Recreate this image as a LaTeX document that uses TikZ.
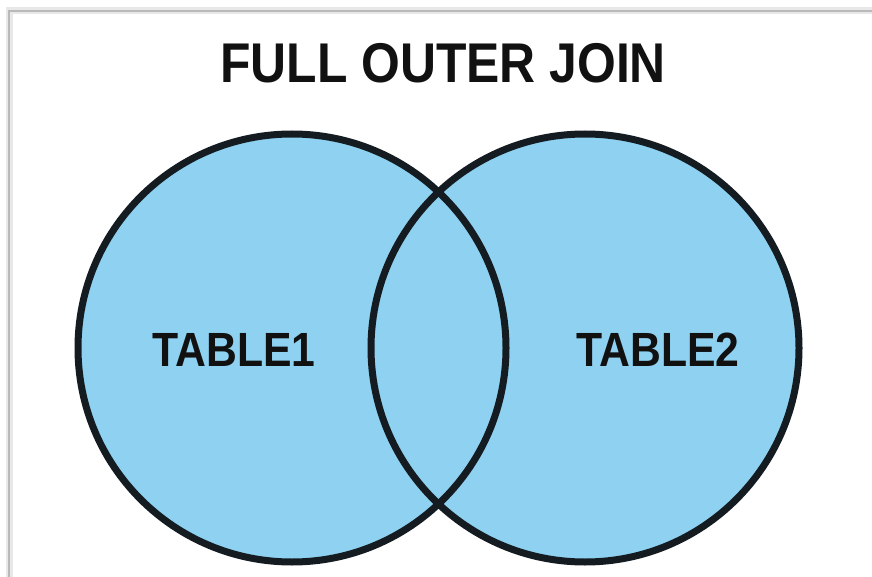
\documentclass[tikz,border=0pt]{standalone}
\usepackage{fontspec}
\setmainfont{Liberation Sans}
\definecolor{setblue}{RGB}{142,209,240}
\definecolor{rim}{RGB}{20,28,34}
\definecolor{txt}{RGB}{17,17,17}
\begin{document}
\begin{tikzpicture}[x=1pt,y=-1pt,
  setfill/.style={circle,minimum size=428pt,inner sep=0pt,fill=setblue},
  setrim/.style={draw=rim,line width=7pt},
  lbl/.style={font=\bfseries\fontsize{48}{48}\selectfont,text=txt,inner sep=0pt,xscale=0.89},
  ttl/.style={font=\bfseries\fontsize{56}{56}\selectfont,text=txt,inner sep=0pt,xscale=0.89}]
\useasboundingbox (0,0) rectangle (872,577);
\fill[white] (0,0) rectangle (872,577);
% frame
\draw[gray!18,line width=7pt] (9,577) -- (9,11) -- (872,11);
\draw[gray!55,line width=2.5pt] (9,577) -- (9,11) -- (872,11);
% sets
\node[setfill] (A) at (292,348) {};
\node[setfill] (B) at (585,348) {};
\draw[setrim] (A.center) circle[radius=214pt];
\draw[setrim] (B.center) circle[radius=214pt];
\node[lbl] (t1) at (234,350) {TABLE1};
\node[lbl] (t2) at (658,350) {TABLE2};
\node[ttl] (title) at (443,63) {FULL OUTER JOIN};
\end{tikzpicture}
\end{document}
